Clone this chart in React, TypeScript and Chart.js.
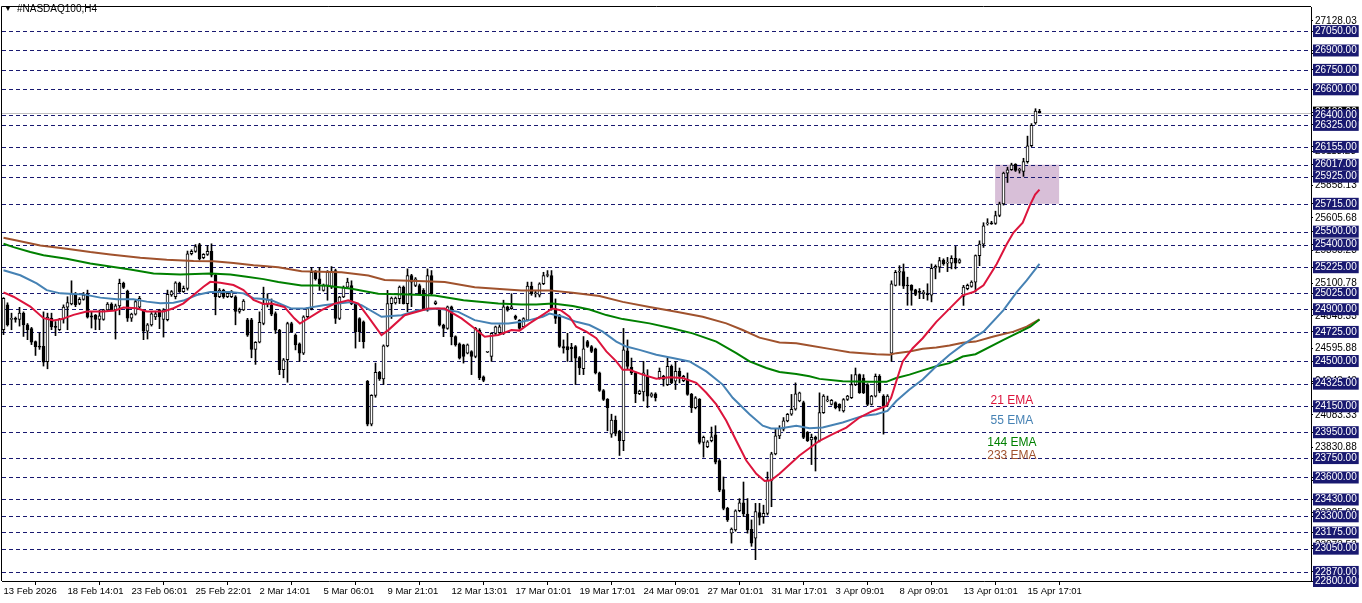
import React, { useEffect, useRef } from "react";
import { Chart, registerables } from "chart.js";

Chart.register(...registerables);

const timeLabels = ["13 Feb 2026", "18 Feb 14:01", "23 Feb 06:01", "25 Feb 22:01", "2 Mar 14:01", "5 Mar 06:01", "9 Mar 21:01", "12 Mar 13:01", "17 Mar 01:01", "19 Mar 17:01", "24 Mar 09:01", "27 Mar 01:01", "31 Mar 17:01", "3 Apr 09:01", "8 Apr 09:01", "13 Apr 01:01", "15 Apr 17:01"];
const labelBars = [0, 16, 32, 48, 64, 80, 96, 112, 128, 144, 160, 176, 192, 208, 224, 240, 256];

const opens = [
  24742, 24934, 24822, 24825, 24822, 24870, 24780, 24750, 24650, 24612,
  24614, 24495, 24832, 24763, 24742, 24824, 24916, 24942, 25010, 24946,
  24977, 25018, 24850, 24855, 24822, 24822, 24895, 24941, 24895, 24926,
  25100, 25040, 24832, 24862, 24916, 24888, 24730, 24780, 24840, 24895,
  24822, 24819, 25010, 24997, 25100, 25036, 25061, 25329, 25347, 25400,
  25298, 25324, 25347, 25163, 24997, 25048, 24997, 24997, 24997, 24883,
  24895, 24819, 24819, 24589, 24645, 24790, 24940, 24931, 24867, 24739,
  24433, 24510, 24790, 24700, 24632, 24561, 24842, 24905, 25186, 25135,
  25046, 25084, 25071, 25199, 24829, 24995, 25071, 25084, 24944, 24829,
  24803, 24344, 24012, 24234, 24413, 24362, 24617, 24944, 24950, 24982,
  25071, 24944, 25161, 25084, 25084, 25046, 24893, 25161, 24944, 24893,
  24778, 24752, 24918, 24688, 24632, 24625, 24561, 24573, 24535, 24739,
  24377, 24568, 24535, 24714, 24720, 24714, 24918, 24905, 24846, 24816,
  24765, 24816, 25079, 25020, 25008, 25097, 25161, 25161, 24906, 24855,
  24612, 24612, 24605, 24612, 24527, 24441, 24650, 24612, 24594, 24408,
  24272, 24204, 23935, 24043, 23956, 23884, 24579, 24451, 24408, 24247,
  24262, 24382, 24229, 24247, 24369, 24382, 24318, 24459, 24344, 24420,
  24349, 24357, 24242, 24140, 24204, 23871, 23838, 23884, 23930, 23731,
  23506, 23361, 23170, 23195, 23343, 23404, 23318, 23200, 23131, 23328,
  23297, 23323, 23578, 23782, 23922, 23973, 24037, 24089, 24127, 24191,
  24178, 23948, 23890, 23910, 23884, 24101, 24191, 24165, 24178, 24165,
  24114, 24203, 24216, 24318, 24395, 24369, 24318, 24165, 24229, 24382,
  24229, 24165, 24560, 25085, 25186, 25191, 25085, 25085, 25051, 25033,
  25020, 25018, 25008, 25217, 25225, 25280, 25257, 25257, 25294, 25263,
  25000, 25059, 25077, 25110, 25314, 25403, 25560, 25562, 25564, 25625,
  25715, 25952, 25978, 26021, 25973, 25965, 26041, 26164, 26340, 26430
];
const highs = [
  24990, 24950, 24870, 24840, 24915, 24880, 24790, 24760, 24655, 24717,
  24880, 24870, 24870, 24805, 24830, 24934, 24997, 25120, 25030, 24990,
  25030, 25048, 24880, 24860, 24895, 24900, 24952, 24950, 24940, 25133,
  25110, 25048, 24870, 24975, 25000, 24895, 24790, 24875, 24885, 24900,
  24905, 25048, 25045, 25113, 25110, 25080, 25350, 25360, 25400, 25410,
  25330, 25393, 25406, 25170, 25060, 25055, 25035, 25045, 25005, 24910,
  24975, 24830, 24830, 24650, 24880, 25071, 25020, 24980, 24880, 24745,
  24520, 24800, 24800, 24710, 24640, 24850, 24915, 25224, 25200, 25224,
  25095, 25199, 25230, 25210, 25000, 25080, 25140, 25120, 24950, 24835,
  24810, 24350, 24240, 24484, 24420, 24625, 25046, 24995, 24995, 25080,
  25080, 25212, 25170, 25145, 25095, 25060, 25212, 25199, 24965, 24900,
  24785, 24925, 24925, 24695, 24640, 24630, 24632, 24580, 24760, 24750,
  24385, 24570, 24720, 24770, 24780, 24970, 24925, 25020, 24855, 24820,
  24835, 25110, 25110, 25046, 25105, 25186, 25199, 25199, 24980, 24860,
  24663, 24714, 24637, 24620, 24535, 24689, 24660, 24620, 24600, 24415,
  24280, 24210, 24089, 24075, 23965, 24752, 24663, 24523, 24415, 24275,
  24497, 24433, 24255, 24255, 24446, 24390, 24523, 24470, 24497, 24446,
  24390, 24408, 24250, 24225, 24210, 23920, 23885, 23990, 24000, 23740,
  23604, 23370, 23210, 23350, 23437, 23565, 23437, 23272, 23400, 23400,
  23386, 23642, 23795, 23973, 24000, 24063, 24095, 24242, 24331, 24260,
  24190, 23955, 23935, 23920, 24254, 24240, 24229, 24203, 24185, 24170,
  24210, 24235, 24395, 24446, 24400, 24395, 24325, 24235, 24400, 24395,
  24240, 24240, 25120, 25200, 25237, 25250, 25148, 25090, 25055, 25060,
  25046, 25097, 25250, 25243, 25301, 25290, 25301, 25314, 25386, 25290,
  25085, 25095, 25120, 25320, 25429, 25569, 25600, 25580, 25658, 25728,
  25960, 25998, 26029, 26025, 25990, 26067, 26238, 26335, 26450, 26445
];
const lows = [
  24704, 24770, 24742, 24800, 24770, 24690, 24665, 24627, 24543, 24590,
  24461, 24440, 24742, 24696, 24735, 24793, 24742, 24934, 24920, 24935,
  24970, 24832, 24755, 24742, 24742, 24815, 24883, 24888, 24670, 24857,
  25060, 24806, 24806, 24855, 24900, 24665, 24670, 24770, 24820, 24750,
  24685, 24810, 25000, 24980, 25030, 25030, 25048, 25320, 25340, 25280,
  25290, 25316, 25150, 24857, 24990, 24985, 24990, 24990, 24780, 24870,
  24890, 24690, 24525, 24474, 24640, 24780, 24918, 24850, 24713, 24395,
  24370, 24336, 24720, 24586, 24497, 24550, 24835, 24895, 25125, 25046,
  25040, 24970, 25060, 24790, 24820, 24990, 25060, 24935, 24600, 24650,
  24600, 23999, 23999, 24220, 24350, 24318, 24610, 24829, 24940, 24944,
  24940, 24880, 24920, 25075, 25010, 24895, 24885, 25010, 24935, 24770,
  24688, 24745, 24625, 24615, 24515, 24484, 24555, 24395, 24525, 24356,
  24340, 24565, 24497, 24705, 24710, 24705, 24885, 24900, 24820, 24745,
  24760, 24810, 25008, 24995, 24995, 25090, 25150, 24893, 24790, 24605,
  24561, 24497, 24497, 24318, 24395, 24395, 24605, 24565, 24400, 24265,
  24195, 23961, 23910, 23922, 23770, 23807, 24433, 24395, 24178, 24240,
  24191, 24140, 24220, 24191, 24360, 24306, 24310, 24325, 24280, 24331,
  24340, 24235, 24102, 24130, 23859, 23757, 23830, 23875, 23705, 23490,
  23350, 23260, 23093, 23185, 23335, 23297, 23170, 23068, 22965, 23233,
  23246, 23310, 23374, 23775, 23900, 23960, 24030, 24080, 24120, 24185,
  23900, 23878, 23700, 23650, 23875, 24095, 24185, 24160, 24130, 24114,
  24105, 24195, 24210, 24310, 24250, 24248, 24155, 24160, 24222, 24255,
  23935, 24150, 24497, 25080, 25085, 25060, 24931, 24931, 25005, 24982,
  24982, 24970, 24957, 25135, 25186, 25240, 25191, 25212, 25212, 25255,
  24930, 25050, 25070, 25033, 25237, 25378, 25550, 25556, 25556, 25615,
  25705, 25880, 25973, 25965, 25952, 25927, 26029, 26157, 26330, 26417
];
const closes = [
  24985, 24780, 24825, 24822, 24870, 24780, 24742, 24645, 24610, 24608,
  24492, 24839, 24763, 24760, 24824, 24916, 24952, 25023, 24934, 24977,
  25010, 24839, 24839, 24822, 24849, 24895, 24941, 24895, 24926, 25100,
  25069, 24832, 24862, 24959, 24985, 24730, 24780, 24865, 24865, 24840,
  24895, 25015, 25036, 25105, 25036, 25061, 25329, 25347, 25385, 25290,
  25324, 25347, 25163, 24997, 25048, 24997, 25023, 25036, 24883, 24900,
  24964, 24700, 24589, 24645, 24800, 24944, 24974, 24862, 24739, 24433,
  24510, 24790, 24727, 24625, 24561, 24842, 24905, 25186, 25135, 25097,
  25084, 25186, 25186, 24829, 24995, 25071, 25110, 24944, 24727, 24727,
  24650, 24012, 24234, 24413, 24362, 24617, 24944, 24987, 24987, 25071,
  24944, 25161, 25110, 25135, 25020, 24905, 25161, 25020, 24957, 24778,
  24752, 24918, 24688, 24625, 24522, 24535, 24625, 24535, 24752, 24369,
  24351, 24568, 24714, 24765, 24765, 24918, 24893, 24918, 24829, 24752,
  24829, 25079, 25020, 25020, 25097, 25161, 25166, 24906, 24829, 24612,
  24599, 24586, 24595, 24523, 24446, 24594, 24612, 24574, 24408, 24272,
  24204, 24140, 24043, 23940, 23884, 24586, 24459, 24408, 24247, 24267,
  24408, 24229, 24247, 24216, 24420, 24357, 24459, 24331, 24420, 24382,
  24382, 24242, 24140, 24216, 23871, 23910, 23876, 23915, 23718, 23501,
  23361, 23272, 23201, 23343, 23404, 23318, 23195, 23093, 23336, 23292,
  23323, 23578, 23782, 23922, 23980, 24037, 24089, 24127, 24247, 24254,
  23910, 23884, 23910, 23895, 24101, 24229, 24201, 24196, 24140, 24135,
  24203, 24229, 24318, 24395, 24255, 24255, 24165, 24229, 24382, 24267,
  24152, 24229, 25097, 25186, 25186, 25079, 25080, 25046, 25015, 25030,
  25033, 25012, 25217, 25232, 25276, 25250, 25257, 25294, 25257, 25283,
  25072, 25085, 25110, 25314, 25403, 25544, 25562, 25560, 25625, 25715,
  25952, 25978, 26016, 25973, 25975, 26041, 26164, 26322, 26432, 26420
];

const ema21: [number, number][] = [
  [0, 25031], [2.5, 24997], [6.7, 24921], [10, 24831], [12.5, 24814], [14.6, 24824], [17.5, 24857], [20.8, 24883],
  [25, 24883], [27.9, 24890], [30, 24913], [33.3, 24908], [35.8, 24883], [40, 24883], [42.5, 24908], [45, 24946],
  [47.5, 25010], [50, 25074], [51.7, 25112], [54.2, 25105], [57.5, 25087], [60, 25048], [62.5, 24972], [65, 24941],
  [67, 24944], [70.2, 24918], [72.7, 24830], [74.1, 24790], [79.5, 24893], [82.8, 24944], [86.2, 24969], [88.7, 24944],
  [91.2, 24842], [94.5, 24701], [96.2, 24739], [100.3, 24854], [106.2, 24905], [110.3, 24905], [114.5, 24829],
  [117.8, 24752], [120.3, 24688], [123.7, 24701], [127, 24739], [129, 24735], [131.5, 24791], [134.7, 24855],
  [137.2, 24906], [139.3, 24893], [141.5, 24842], [143.2, 24765], [145.7, 24727], [148.2, 24676], [150.7, 24574],
  [153.2, 24497], [154.8, 24433], [156.5, 24433], [159.8, 24395], [163.2, 24364], [166.5, 24375], [169.8, 24369],
  [173.2, 24331], [175.7, 24255], [178.2, 24165], [180.7, 24038], [183.2, 23884], [185.7, 23731], [188.2, 23629],
  [190.3, 23573], [191.9, 23578], [194, 23629], [199, 23770], [204, 23884], [207.3, 23935], [210.7, 23986],
  [214, 24063], [217.3, 24114], [220.7, 24152], [221.9, 24216], [223.2, 24344], [224.8, 24497], [227.3, 24599],
  [229.8, 24676], [233.2, 24803], [236.5, 24905], [239.8, 25008], [242.5, 25033], [245, 25085], [248.3, 25250],
  [250.8, 25403], [252.5, 25493], [254.8, 25569], [256.5, 25697], [257.9, 25786], [259, 25825]
];
const ema55: [number, number][] = [
  [0, 25202], [4.2, 25163], [8.3, 25100], [10.8, 25048], [14.2, 25023], [20, 25015], [24.2, 24990], [28.3, 24977],
  [32.5, 24977], [35.8, 24959], [39.2, 24946], [42.5, 24951], [45, 24967], [48.3, 25010], [51.7, 25033], [56.7, 25033],
  [60, 25023], [62.5, 24985], [65, 24980], [67, 24969], [72, 24905], [75, 24905], [80, 24931], [83.7, 24944],
  [87, 24956], [89.5, 24931], [94.5, 24842], [99.5, 24854], [103.7, 24893], [108.7, 24905], [113.7, 24880],
  [117.8, 24816], [122, 24790], [126.2, 24790], [129.5, 24803], [131.5, 24816], [134.8, 24842], [136.5, 24867],
  [139.8, 24842], [143.2, 24803], [146.5, 24778], [149.8, 24727], [153.2, 24650], [155.7, 24612], [159, 24586],
  [163.2, 24548], [167.3, 24523], [171.5, 24497], [175.7, 24420], [179.8, 24318], [182.3, 24216], [186.5, 24089],
  [189.8, 24000], [191.9, 23979], [194, 23979], [198.2, 23999], [201.5, 23981], [204.8, 23986], [209.8, 24025],
  [214.8, 24076], [218.2, 24089], [221, 24114], [223.2, 24191], [226.5, 24280], [229.8, 24357], [233.2, 24459],
  [236.5, 24548], [239.8, 24625], [243, 24688], [245, 24727], [250, 24893], [253.3, 25033], [255.8, 25123], [259, 25250]
];
const ema144: [number, number][] = [
  [0, 25406], [2.5, 25380], [6.7, 25342], [10, 25317], [15.8, 25291], [21.7, 25253], [27.5, 25227], [31.7, 25207],
  [37.5, 25176], [44.2, 25168], [51.7, 25176], [56.7, 25168], [60.8, 25151], [65, 25133], [68.7, 25110], [74.5, 25084],
  [80.3, 25084], [87, 25058], [93.7, 25020], [101.2, 25015], [107.8, 25007], [115, 24969], [123.7, 24944],
  [129.5, 24936], [133.2, 24936], [137.3, 24944], [142.3, 24926], [146.5, 24898], [150.7, 24855], [154.8, 24824],
  [161.5, 24791], [167.3, 24752], [172.3, 24714], [178.2, 24650], [183.2, 24561], [186.5, 24497], [190.7, 24446],
  [194, 24415], [198.2, 24400], [201.5, 24382], [204, 24362], [209.8, 24344], [216.5, 24339], [220.7, 24339],
  [223.2, 24369], [226.5, 24395], [229.8, 24428], [233.2, 24459], [236.5, 24484], [239.8, 24535], [243, 24553],
  [250, 24663], [253.3, 24714], [256.7, 24765], [259, 24821]
];
const ema233: [number, number][] = [
  [0, 25452], [3.3, 25431], [9.2, 25393], [15.8, 25368], [21.7, 25342], [26.7, 25324], [34.2, 25299], [40.8, 25283],
  [47.5, 25273], [52.5, 25271], [57.5, 25258], [62.5, 25240], [65, 25235], [68.7, 25224], [74.5, 25194], [84.5, 25186],
  [91.2, 25161], [95.3, 25127], [105.3, 25117], [110.3, 25110], [117.8, 25071], [129.5, 25046], [136.5, 25046],
  [142.3, 25028], [149, 25003], [154.8, 24957], [161.5, 24918], [168.2, 24880], [174.8, 24842], [180.7, 24791],
  [184.8, 24740], [189, 24681], [194, 24643], [198.2, 24637], [201.5, 24620], [206.5, 24594], [211.5, 24568],
  [218.2, 24553], [221.5, 24548], [223.2, 24561], [226.5, 24574], [229.8, 24594], [233.2, 24604], [236.5, 24620],
  [239.8, 24642], [243, 24650], [247.5, 24689], [252.5, 24727], [255.8, 24765], [259, 24821]
];

const levelPrices = [27050, 26900, 26750, 26600, 26400, 26325, 26155, 26017, 25925, 25715, 25500, 25400, 25225, 25025, 24900, 24725, 24500, 24325, 24150, 23950, 23750, 23600, 23430, 23300, 23175, 23050, 22870, 22800];
const scalePrices = [27128.03, 26875.58, 26118.23, 25858.13, 25605.68, 25353.23, 25100.78, 24848.33, 24595.88, 24343.43, 24083.33, 23830.88, 23578.43, 23325.98, 23073.53];
const bidPrice = 26420;
const zoneHigh = 26017;
const zoneLow = 25715;
const zoneFromBar = 247.9;
const zoneToBar = 263.9;

const emaNames = ["21 EMA", "55 EMA", "144 EMA", "233 EMA"];
const emaLabelBar = 252.1;
const emaLabelPrices = [24190, 24037, 23868, 23769];

const COLORS = ["#DC143C", "#4682B4", "#008000", "#A0522D"];
const NAVY = "#191970";
const FONT = '"Liberation Sans", Arial, sans-serif';

const overlayPlugin = {
  id: "mtOverlay",
  beforeDatasetsDraw(chart: any) {
    const { ctx, chartArea: a, scales } = chart;
    const x = scales.x, y = scales.y;
    ctx.save();
    ctx.beginPath();
    ctx.rect(a.left, a.top, a.right - a.left, a.bottom - a.top);
    ctx.clip();
    const x1 = x.getPixelForValue(zoneFromBar), x2 = x.getPixelForValue(zoneToBar);
    const y1 = y.getPixelForValue(zoneHigh), y2 = y.getPixelForValue(zoneLow);
    ctx.fillStyle = "#d8bfd8";
    ctx.fillRect(x1, y1, x2 - x1, y2 - y1);
    ctx.strokeStyle = NAVY;
    ctx.lineWidth = 1;
    ctx.setLineDash([4, 3]);
    for (const p of levelPrices) {
      const py = Math.round(y.getPixelForValue(p)) + 0.5;
      ctx.beginPath();
      ctx.moveTo(a.left, py);
      ctx.lineTo(a.right, py);
      ctx.stroke();
    }
    ctx.setLineDash([]);
    ctx.strokeStyle = "#c0c0c0";
    const by = Math.round(y.getPixelForValue(bidPrice)) + 0.5;
    ctx.beginPath();
    ctx.moveTo(a.left, by);
    ctx.lineTo(a.right, by);
    ctx.stroke();
    ctx.restore();
  },
  afterDraw(chart: any) {
    const { ctx, chartArea: a, scales } = chart;
    const x = scales.x, y = scales.y;
    ctx.save();
    ctx.strokeStyle = "#000";
    ctx.lineWidth = 1;
    ctx.beginPath();
    ctx.moveTo(a.left - 0.5, a.bottom);
    ctx.lineTo(a.left - 0.5, a.top - 0.5);
    ctx.lineTo(a.right, a.top - 0.5);
    ctx.stroke();
    ctx.fillStyle = "#000";
    ctx.textBaseline = "middle";
    ctx.textAlign = "left";
    ctx.font = `8px ${FONT}`;
    ctx.fillText("▼", 4, 9);
    ctx.font = `10px ${FONT}`;
    ctx.fillText("#NASDAQ100,H4", 17, 9);
    ctx.font = `12px ${FONT}`;
    ctx.textAlign = "center";
    const lx = x.getPixelForValue(emaLabelBar);
    emaNames.forEach((t, i) => {
      ctx.fillStyle = COLORS[i];
      ctx.fillText(t, lx, y.getPixelForValue(emaLabelPrices[i]));
    });
    ctx.restore();
  },
};

export default function App() {
  const ref = useRef<HTMLCanvasElement | null>(null);
  useEffect(() => {
    if (!ref.current) return;
    const bars = opens.map((_, i) => i);
    const isPlain = (v: number) => scalePrices.includes(v);
    const chart = new Chart(ref.current, {
      type: "bar",
      data: {
        datasets: [
          ...[ema21, ema55, ema144, ema233].map((arr, k) => ({
            type: "line" as const,
            data: arr.map(([b, v]) => ({ x: b, y: v })),
            borderColor: COLORS[k],
            borderWidth: 2,
            pointRadius: 0,
            tension: 0,
            fill: false,
            order: 0,
          })),
          {
            type: "bar" as const,
            data: bars.map((i) => ({ x: i, y: [opens[i], closes[i]] })),
            backgroundColor: bars.map((i) => (closes[i] >= opens[i] ? "#ffffff" : "#000000")),
            borderColor: "#000000",
            borderWidth: 1,
            borderSkipped: false,
            barThickness: 3,
            minBarLength: 1,
            grouped: false,
            order: 1,
          },
          {
            type: "bar" as const,
            data: bars.map((i) => ({ x: i, y: [lows[i], highs[i]] })),
            backgroundColor: "#000000",
            borderWidth: 0,
            barThickness: 1,
            grouped: false,
            order: 2,
          },
        ] as any,
      },
      options: {
        animation: false,
        responsive: false,
        devicePixelRatio: 1,
        events: [],
        layout: { padding: { left: 2, top: 2, right: 0, bottom: 0 } },
        plugins: { legend: { display: false }, tooltip: { enabled: false } },
        scales: {
          x: {
            type: "linear",
            min: -0.375,
            max: 326.875,
            offset: false,
            afterBuildTicks: (s: any) => {
              s.ticks = labelBars.map((v) => ({ value: v }));
            },
            afterFit: (s: any) => {
              s.height = 22;
            },
            grid: { drawOnChartArea: false, drawTicks: true, tickLength: 4, color: "#000" },
            border: { display: true, color: "#000", width: 1 },
            ticks: {
              autoSkip: false,
              maxRotation: 0,
              minRotation: 0,
              align: "start",
              padding: 1,
              color: "#000",
              font: { family: FONT, size: 9.5 },
              callback: (_v: any, i: number) => timeLabels[i],
            },
          },
          y: {
            type: "linear",
            position: "right",
            min: 22800,
            max: 27236,
            afterBuildTicks: (s: any) => {
              s.ticks = [
                ...scalePrices.map((v) => ({ value: v })),
                { value: bidPrice },
                ...levelPrices.map((v) => ({ value: v })),
              ];
            },
            afterFit: (s: any) => {
              s.width = 51;
            },
            grid: { drawOnChartArea: false, drawTicks: true, tickLength: 2, color: "#000" },
            border: { display: true, color: "#000", width: 1 },
            ticks: {
              autoSkip: false,
              padding: 2,
              font: { family: FONT, size: 10, lineHeight: 1 },
              color: (c: any) => (isPlain(c.tick?.value) ? "#000" : "#fff"),
              showLabelBackdrop: (c: any) => !isPlain(c.tick?.value),
              backdropColor: (c: any) => (c.tick?.value === bidPrice ? "#000" : NAVY),
              backdropPadding: { left: 2, right: 2, top: 1, bottom: 1 },
              callback: (v: any) => Number(v).toFixed(2),
            },
          },
        },
      } as any,
      plugins: [overlayPlugin],
    });
    return () => chart.destroy();
  }, []);
  return (
    <div style={{ position: "absolute", left: 0, top: 0, width: 1362, height: 603, background: "#fff" }}>
      <canvas ref={ref} width={1362} height={603} style={{ display: "block" }} />
    </div>
  );
}
